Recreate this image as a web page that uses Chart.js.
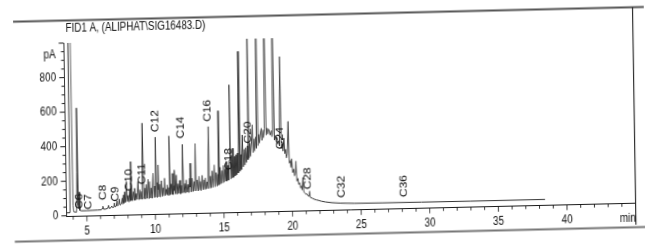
<!DOCTYPE html>
<html><head><meta charset="utf-8">
<script src="https://cdn.jsdelivr.net/npm/chart.js@4"></script>
<style>
html,body{margin:0;padding:0;background:#fff;}
#page{position:relative;width:645px;height:249px;overflow:hidden;background:#fff;}
#sheet{position:absolute;left:-70.5px;top:0;width:786px;height:249px;transform-origin:393px 124.5px;transform:scaleX(0.82) rotate(-1.1deg);}
</style></head><body>
<div id="page"><div id="sheet"><canvas id="c"></canvas></div></div>
<script>
// retention time (min)
const retentionTimes = [
3.50,3.78,3.82,3.95,4.00,4.05,4.25,4.31,4.34,4.37,
4.41,4.45,4.49,4.60,5.00,5.40,5.80,6.05,6.12,6.17,
6.22,6.40,6.52,6.58,6.63,6.75,6.82,6.88,6.97,7.02,
7.07,7.15,7.20,7.25,7.32,7.38,7.43,7.52,7.58,7.63,
7.68,7.72,7.78,7.83,7.90,7.95,8.02,8.08,8.15,8.19,
8.22,8.25,8.29,8.34,8.42,8.46,8.50,8.55,8.62,8.67,
8.76,8.81,8.88,8.93,9.00,9.05,9.12,9.17,9.24,9.29,
9.36,9.41,9.49,9.54,9.60,9.65,9.72,9.77,9.85,9.91,
9.97,10.02,10.07,10.12,10.17,10.19,10.22,10.27,10.34,10.39,
10.46,10.51,10.58,10.63,10.70,10.75,10.81,10.84,10.87,10.93,
11.00,11.03,11.06,11.11,11.18,11.22,11.26,11.31,11.38,11.40,
11.43,11.48,11.55,11.60,11.67,11.72,11.80,11.85,11.92,11.97,
12.04,12.09,12.16,12.21,12.28,12.33,12.40,12.45,12.52,12.54,
12.57,12.62,12.72,12.77,12.84,12.89,12.96,13.01,13.08,13.13,
13.20,13.25,13.32,13.37,13.44,13.49,13.56,13.61,13.68,13.72,
13.79,13.84,13.93,13.98,14.05,14.10,14.17,14.22,14.28,14.34,
14.39,14.46,14.51,14.58,14.62,14.66,14.70,14.76,14.81,14.88,
14.93,15.00,15.05,15.12,15.16,15.20,15.25,15.32,15.37,15.44,
15.49,15.53,15.60,15.64,15.68,15.73,15.80,15.85,15.92,15.97,
16.04,16.09,16.16,16.21,16.28,16.33,16.41,16.46,16.53,16.58,
16.65,16.70,16.77,16.81,16.85,16.89,16.96,17.01,17.08,17.14,
17.19,17.26,17.31,17.38,17.43,17.50,17.55,17.62,17.67,17.74,
17.80,17.84,17.92,17.97,18.04,18.10,18.15,18.22,18.27,18.34,
18.40,18.44,18.52,18.57,18.63,18.70,18.75,18.82,18.87,18.94,
18.99,19.06,19.11,19.20,19.25,19.32,19.37,19.44,19.49,19.56,
19.61,19.68,19.76,19.81,19.88,19.93,20.00,20.05,20.12,20.17,
20.24,20.30,20.35,20.42,20.47,20.54,20.60,20.67,20.72,20.78,
20.83,20.92,20.98,21.05,21.12,21.20,21.26,21.30,21.45,21.60,
21.75,21.90,22.10,22.40,22.85,23.50,24.50,26.50,29.40,33.00,38.40
];
// FID signal (pA)
const signalPA = [
17,18,1500,1500,60,22,20,250,622,60,
40,135,30,27,27,28,29,30,36,50,
33,34,38,55,37,40,50,41,44,68,
45,50,80,50,58,90,55,62,95,60,
112,66,131,70,189,75,110,72,140,78,
305,80,160,78,130,82,150,80,120,85,
188,84,140,86,130,85,526,88,150,86,
170,90,200,88,186,92,150,90,234,94,
160,95,443,96,180,140,282,98,170,96,
190,100,150,102,204,104,140,110,165,103,
150,106,448,108,170,110,231,108,160,130,
250,112,221,110,170,114,190,112,160,116,
398,118,170,116,191,120,165,118,200,150,
287,122,200,124,180,126,400,128,190,126,
210,130,180,128,215,132,190,134,200,136,
178,138,497,140,210,142,240,145,200,274,
148,230,150,220,155,587,160,260,165,240,
168,270,172,250,178,292,180,270,184,300,
736,190,300,196,368,200,320,208,330,215,
340,225,928,235,330,245,444,260,360,270,
370,285,380,300,1500,310,395,320,405,501,
340,420,350,430,365,1500,380,445,395,455,
480,410,470,425,475,1500,440,480,445,475,
460,440,465,430,455,1500,410,435,400,425,
385,405,375,892,360,385,345,420,330,355,
305,330,516,275,290,250,300,220,240,200,
215,285,170,185,150,160,130,140,118,190,
105,100,92,95,84,80,110,74,68,62,
58,55,50,45,40,36,33,32,31,30,30
];
const peakNames = ['C6','C7','C8','C9','C10','C11','C12','C14','C16','C18','C20','C24','C28','C32','C36'];
const peakLabelTimes = [4.45,5.15,6.22,7.13,8.14,9.06,10.07,11.98,13.90,15.42,16.88,19.20,21.15,23.58,28.17];
const peakLabelLevels = [82,78,130,119,199,232,536,495,589,306,458,420,184,131,126];
const xTickValues = [5,10,15,20,25,30,35,40];
const xMinorTicks = [4,5,6,7,8,9,10,11,12,13,14,15,16,17,18,19,20,21,22,23,24,25,26,27,28,29,30,31,32,33,34,35,36,37,38,39,40,41,42,43,44];
const yTickValues = [0,200,400,600,800];
const yMinorTicks = [0,50,100,150,200,250,300,350,400,450,500,550,600,650,700,750,800,850,900,950,1000];
const titleText = 'FID1 A, (ALIPHAT\\SIG16483.D)';
const yUnit = 'pA';
const xUnit = 'min';

const FONT = '"Liberation Sans", Arial, sans-serif';
Chart.defaults.font.family = FONT;
Chart.defaults.font.size = 12;
Chart.defaults.color = '#111';

const decor = {
  id: 'decor',
  afterDraw(chart) {
    const {ctx, chartArea: {left, right, top, bottom}, scales: {x, y}} = chart;
    ctx.save();
    ctx.strokeStyle = '#1a1a1a';
    ctx.lineWidth = 1;
    ctx.beginPath();
    xMinorTicks.forEach(t => {
      const px = x.getPixelForValue(t);
      const len = (t % 5 === 0) ? 5 : 3;
      ctx.moveTo(px, bottom); ctx.lineTo(px, bottom + len);
    });
    yMinorTicks.forEach(v => {
      const py = y.getPixelForValue(v);
      const len = (v % 200 === 0) ? 6 : 3.5;
      ctx.moveTo(left, py); ctx.lineTo(left - len, py);
    });
    ctx.stroke();
    ctx.fillStyle = '#111';
    ctx.font = '12px ' + FONT;
    ctx.textAlign = 'right'; ctx.textBaseline = 'middle';
    ctx.fillText(yUnit, left - 10, y.getPixelForValue(935));
    ctx.fillText(xUnit, right, bottom + 7.5 + 7.5);
    ctx.textAlign = 'left';
    ctx.fillText(titleText, 81, 22.3);
    // peak labels (vertical)
    ctx.textAlign = 'center';
    peakNames.forEach((n, i) => {
      const px = x.getPixelForValue(peakLabelTimes[i]);
      const py = y.getPixelForValue(peakLabelLevels[i]);
      ctx.save(); ctx.translate(px, py); ctx.rotate(-Math.PI / 2);
      ctx.fillText(n, 0, 0); ctx.restore();
    });
    // page frame
    ctx.strokeStyle = '#555'; ctx.lineWidth = 2;
    ctx.beginPath(); ctx.moveTo(17, 14.5); ctx.lineTo(790, 14.5); ctx.stroke();
    ctx.strokeStyle = '#777';
    ctx.beginPath(); ctx.moveTo(15, 234.5); ctx.lineTo(790, 234.5); ctx.stroke();
    ctx.strokeStyle = '#222'; ctx.lineWidth = 1.2;
    ctx.beginPath(); ctx.moveTo(right, 14.5); ctx.lineTo(right, 232); ctx.stroke();
    ctx.restore();
  }
};

new Chart(document.getElementById('c'), {
  type: 'line',
  data: {
    datasets: [{
      data: retentionTimes.map((t, i) => ({x: t, y: signalPA[i]})),
      borderColor: '#333',
      borderWidth: 1,
      pointRadius: 0,
      tension: 0,
      fill: false
    }]
  },
  options: {
    responsive: true,
    maintainAspectRatio: false,
    animation: false,
    devicePixelRatio: 1,
    layout: {padding: {top: 37, right: 13.4, left: 0, bottom: 0}},
    plugins: {legend: {display: false}, tooltip: {enabled: false}, title: {display: false}},
    scales: {
      x: {
        type: 'linear', min: 3.5, max: 45,
        afterBuildTicks: s => { s.ticks = xTickValues.map(v => ({value: v})); },
        afterFit: s => { s.height = 38.2; },
        grid: {display: false, drawTicks: false},
        border: {display: true, color: '#1a1a1a', width: 1},
        ticks: {padding: 7.5, autoSkip: false, maxRotation: 0, color: '#111', font: {size: 12}, callback: v => String(v)}
      },
      y: {
        type: 'linear', min: -6, max: 1000,
        afterBuildTicks: s => { s.ticks = yTickValues.map(v => ({value: v})); },
        afterFit: s => { s.width = 78.3; },
        grid: {display: false, drawTicks: false},
        border: {display: true, color: '#1a1a1a', width: 1},
        ticks: {padding: 10, color: '#111', font: {size: 12}, callback: v => String(v)}
      }
    }
  },
  plugins: [decor]
});
</script>
</body></html>
